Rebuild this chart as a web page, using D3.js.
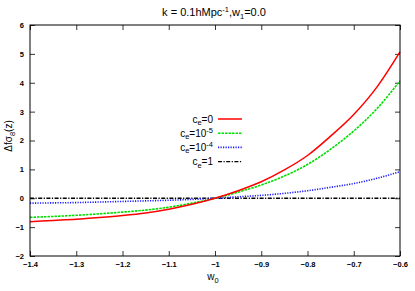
<!DOCTYPE html>
<html><head><meta charset="utf-8">
<script src="https://cdn.jsdelivr.net/npm/d3@7"></script>
<style>body{margin:0;background:#fff}svg{display:block}text{font-family:"Liberation Sans",Arial,sans-serif}</style>
</head><body><svg id="c" width="415" height="291"></svg>
<script>
const w0 = [-1.40,-1.35,-1.30,-1.25,-1.20,-1.15,-1.10,-1.05,-1.00,-0.95,-0.90,-0.85,-0.80,-0.75,-0.70,-0.65,-0.60];
const ce0   = [-0.81,-0.77,-0.73,-0.67,-0.60,-0.51,-0.38,-0.21,0,0.26,0.57,0.98,1.48,2.15,2.90,3.85,5.07];
const ce1e5 = [-0.66,-0.63,-0.59,-0.54,-0.48,-0.41,-0.31,-0.17,0,0.21,0.46,0.77,1.17,1.70,2.33,3.10,4.07];
const ce1e4 = [-0.17,-0.16,-0.15,-0.13,-0.11,-0.09,-0.07,-0.04,0,0.05,0.10,0.17,0.26,0.38,0.51,0.69,0.92];
const ce1   = [0,0,0,0,0,0,0,0,0,0,0,0,0,0,0,0,0];
const xTicks = [-1.4,-1.3,-1.2,-1.1,-1,-0.9,-0.8,-0.7,-0.6];
const yTicks = [-2,-1,0,1,2,3,4,5,6];

const svg = d3.select("#c");
const L=30,R=400,T=25,B=256;
const x = d3.scaleLinear().domain([-1.4,-0.6]).range([L,R]);
const y = d3.scaleLinear().domain([-2,6]).range([B,T]);

const series = [
  {v:ce0, color:"#ff0000", dash:null, w:1.5, label:["0",null]},
  {v:ce1e5, color:"#00dd00", dash:"2.5,1", w:1.6, label:["10","-5"]},
  {v:ce1e4, color:"#1a1aff", dash:"1.2,1.3", w:1.6, label:["10","-4"]},
  {v:ce1, color:"#000000", dash:"4,1.5,1.2,1.5", w:1.3, label:["1",null]}
];

const fmt = d => d3.format("")(+d.toFixed(1));
const gx = svg.append("g").attr("transform",`translate(0,${B})`)
  .call(d3.axisBottom(x).tickValues(xTicks).tickSizeInner(-5).tickSizeOuter(0).tickPadding(6).tickFormat(fmt));
const gxt = svg.append("g").attr("transform",`translate(0,${T})`)
  .call(d3.axisTop(x).tickValues(xTicks).tickSizeInner(-5).tickSizeOuter(0).tickFormat(""));
const gy = svg.append("g").attr("transform",`translate(${L},0)`)
  .call(d3.axisLeft(y).tickValues(yTicks).tickSizeInner(-5).tickSizeOuter(0).tickPadding(6));
const gyr = svg.append("g").attr("transform",`translate(${R},0)`)
  .call(d3.axisRight(y).tickValues(yTicks).tickSizeInner(-5).tickSizeOuter(0).tickFormat(""));
[gx,gxt,gy,gyr].forEach(g=>{g.select(".domain").remove();g.selectAll("line").attr("stroke","#000").attr("stroke-width",0.8);
  g.selectAll("text").attr("font-size",7.5).attr("font-weight","bold").attr("fill","#000");});

const line = d3.line().x((d,i)=>x(w0[i])).y(d=>y(d)).curve(d3.curveMonotoneX);
series.slice().reverse().forEach(s=>{
  svg.append("path").attr("d",line(s.v)).attr("fill","none").attr("stroke",s.color)
    .attr("stroke-width",s.w).attr("stroke-dasharray",s.dash);
});

svg.append("rect").attr("x",L).attr("y",T).attr("width",R-L).attr("height",B-T)
  .attr("fill","none").attr("stroke","#000").attr("stroke-width",1);

const ly0=119, ldy=14.2;
series.forEach((s,i)=>{
  const yy = ly0+i*ldy;
  svg.append("line").attr("x1",218).attr("x2",242).attr("y1",yy).attr("y2",yy)
    .attr("stroke",s.color).attr("stroke-width",s.w).attr("stroke-dasharray",s.dash);
  const t = svg.append("text").attr("x",213).attr("y",yy+3.5).attr("text-anchor","end").attr("font-size",10);
  t.append("tspan").text("c");
  t.append("tspan").attr("font-size",7.5).attr("dy",2.5).text("e");
  t.append("tspan").attr("dy",-2.5).text("="+s.label[0]);
  if(s.label[1]) t.append("tspan").attr("font-size",7.5).attr("dy",-4).text(s.label[1]);
});

const tt = svg.append("text").attr("x",214).attr("y",16).attr("text-anchor","middle").attr("font-size",11);
tt.append("tspan").text("k = 0.1hMpc");
tt.append("tspan").attr("font-size",7.5).attr("dy",-4).text("-1");
tt.append("tspan").attr("dy",4).text(",w");
tt.append("tspan").attr("font-size",7.5).attr("dy",2.5).text("1");
tt.append("tspan").attr("dy",-2.5).text("=0.0");

const xl = svg.append("text").attr("x",213).attr("y",280).attr("text-anchor","middle").attr("font-size",10);
xl.append("tspan").text("w");
xl.append("tspan").attr("font-size",7.5).attr("dy",2.5).text("0");

const yl = svg.append("text").attr("transform","translate(12,136) rotate(-90)").attr("text-anchor","middle").attr("font-size",10);
yl.append("tspan").text("Δfσ");
yl.append("tspan").attr("font-size",7.5).attr("dy",2.5).text("8");
yl.append("tspan").attr("dy",-2.5).text("(z)");
</script></body></html>
